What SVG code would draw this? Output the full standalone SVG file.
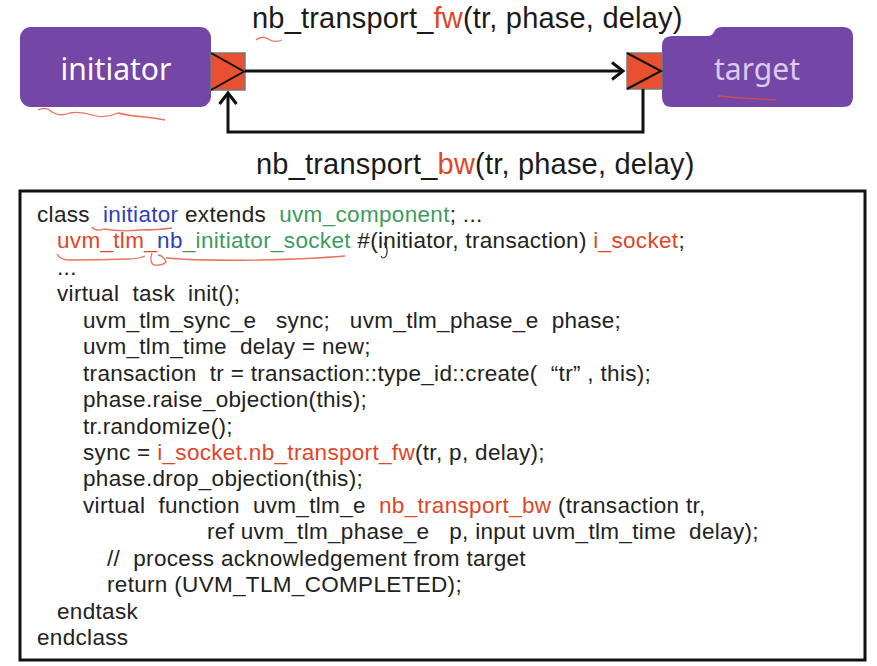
<svg xmlns="http://www.w3.org/2000/svg" width="877" height="666" viewBox="0 0 877 666">
<style>
  .lbl{font-family:"Liberation Sans",Arial,sans-serif;font-size:29px;letter-spacing:0.2px;fill:#1a1a1a}
  .code{font-family:"Liberation Sans",Arial,sans-serif;font-size:22.5px;letter-spacing:0.32px;fill:#222;white-space:pre}
  .r{fill:#E0452A}
  .b{fill:#2F3FB8}
  .g{fill:#3E9B60}
  .node{fill:#7446A6}
  .port{fill:#E8502F;stroke:#7a7a7a;stroke-width:1.5}
  .chev{fill:none;stroke:#111;stroke-width:2}
  .wire{fill:none;stroke:#111;stroke-width:3;stroke-linejoin:miter}
  .sq{fill:none;stroke:#E0503A;stroke-width:1.3;opacity:0.8}
</style>
<rect width="877" height="666" fill="#ffffff"/>

<g id="initiator">
  <rect class="node" x="20" y="27" width="191" height="80" rx="11"/>
  <text x="116" y="80" text-anchor="middle" style="font-family:'Noto Sans','Open Sans',sans-serif;font-size:30px;fill:#ffffff">initiator</text>
  <rect class="port" x="211" y="53" width="34" height="37"/>
  <path class="chev" d="M211 53 L244 71.5 L211 90"/>
</g>

<g id="target">
  <path class="node" d="M672 36 L708 36 Q712 36 714 32 Q716 27 722 27 L843 27 Q853 27 853 37 L853 97 Q853 107 843 107 L672 107 Q662 107 662 97 L662 46 Q662 36 672 36 Z"/>
  <text x="757" y="80" text-anchor="middle" style="font-family:'Noto Sans','Open Sans',sans-serif;font-size:30px;fill:#DCCBEB">target</text>
  <rect class="port" x="627" y="53" width="35" height="36"/>
  <path class="chev" d="M627 53 L661 71 L627 89"/>
</g>

<g id="connectors">
  <path class="wire" d="M245 71 L623 71"/>
  <path class="wire" d="M612 62.5 L623 71 L612 79.5"/>
  <path class="wire" d="M643 89 L643 132 L228 132 L228 94"/>
  <path class="wire" d="M219.5 104 L228 93 L236.5 104"/>
</g>

<g id="labels">
  <text class="lbl" x="252" y="28">nb_transport_<tspan class="r">fw</tspan>(tr, phase, delay)</text>
  <text class="lbl" x="256" y="174">nb_transport_<tspan class="r">bw</tspan>(tr, phase, delay)</text>
</g>

<g id="code">
  <rect x="20" y="191" width="845" height="469" fill="#ffffff" stroke="#111" stroke-width="3"/>
  <text class="code" x="37" y="222">class  <tspan class="b">initiator</tspan> extends  <tspan class="g">uvm_component</tspan>; ...</text>
  <text class="code" x="57" y="248.4"><tspan class="r">uvm_tlm_</tspan><tspan class="b">nb</tspan><tspan class="g">_initiator_socket</tspan> #(initiator, transaction) <tspan class="r">i_socket</tspan>;</text>
  <text class="code" x="57" y="274.9">...</text>
  <text class="code" x="57" y="301.3">virtual  task  init();</text>
  <text class="code" x="83" y="327.8">uvm_tlm_sync_e   sync;   uvm_tlm_phase_e  phase;</text>
  <text class="code" x="83" y="354.2">uvm_tlm_time  delay = new;</text>
  <text class="code" x="83" y="380.6">transaction  tr = transaction::type_id::create(  “tr” , this);</text>
  <text class="code" x="83" y="407.1">phase.raise_objection(this);</text>
  <text class="code" x="83" y="433.5">tr.randomize();</text>
  <text class="code" x="83" y="460">sync = <tspan class="r">i_socket.nb_transport_fw</tspan>(tr, p, delay);</text>
  <text class="code" x="83" y="486.4">phase.drop_objection(this);</text>
  <text class="code" x="83" y="512.8">virtual  function  uvm_tlm_e  <tspan class="r">nb_transport_bw</tspan> (transaction tr,</text>
  <text class="code" x="207" y="539.3">ref uvm_tlm_phase_e   p, input uvm_tlm_time  delay);</text>
  <text class="code" x="107" y="565.7">//  process acknowledgement from target</text>
  <text class="code" x="107" y="592.1">return (UVM_TLM_COMPLETED);</text>
  <text class="code" x="57" y="618.6">endtask</text>
  <text class="code" x="37" y="645">endclass</text>
</g>

<g id="annotations">
  <path class="sq" d="M256 40 Q262 35 268 39 Q274 43 282 40"/>
  <path class="sq" d="M38 110 Q46 106 52 112 Q60 117 70 113 Q80 111 92 115 Q105 119 118 113 Q130 116 145 117 Q155 118 165 120"/>
  <path class="sq" d="M718 96 Q740 98 776 100"/>
  <path class="sq" d="M92 227 Q96 232 104 229 Q120 232 140 230 Q158 230 172 228"/>
  <path class="sq" d="M57 254 Q60 260 70 260 Q100 260 128 259 Q138 259 145 256"/>
  <path class="sq" d="M152 253 Q149 262 154 265 Q162 266 166 262 Q164 256 158 255"/>
  <path class="sq" d="M166 258 Q200 261 260 260 Q310 259 345 256"/>
  <path d="M384 243 Q389 249 386 256 Q383 260 381 256" fill="none" stroke="#333" stroke-width="1.2"/>
</g>
</svg>
